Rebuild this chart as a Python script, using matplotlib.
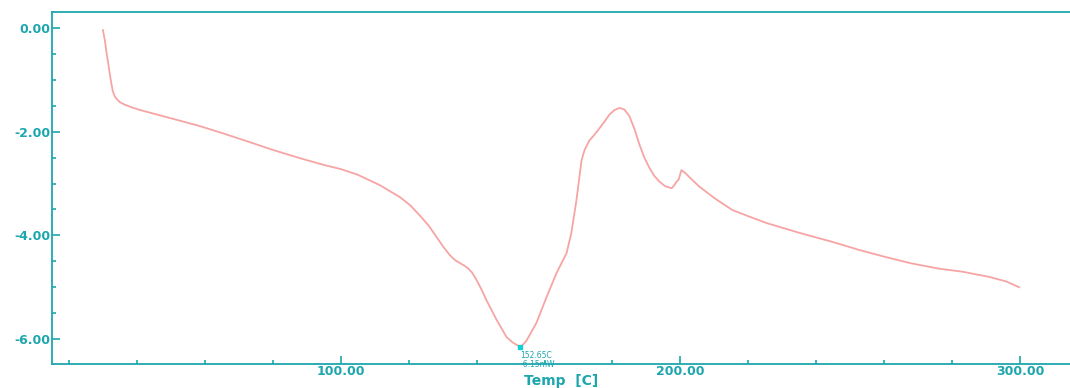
"""
DSC curve: heat flow vs temperature
"""

import numpy as np
import matplotlib.pyplot as plt

# temperature readings (C) and heat flow (mW)
temp = [30.0, 30.6, 31.0, 31.5, 32.0, 32.5, 32.9, 33.5, 34.2, 35.0, 36.5,
        38.5, 40.9, 50.0, 58.5, 65.3, 73.2, 80.0, 88.0, 95.0, 100.0, 105.0,
        111.5, 117.4, 120.5, 123.2, 126.0, 128.2, 130.2, 132.1, 133.7, 135.0,
        136.3, 137.4, 138.7, 140.0, 141.5, 142.9, 145.9, 148.8, 150.5, 152.0,
        152.65, 153.5, 154.7, 157.6, 160.6, 163.5, 166.5, 167.9, 169.4, 170.9,
        171.8, 173.2, 174.8, 176.2, 177.7, 179.1, 180.6, 182.1, 183.5, 185.0,
        186.5, 187.9, 189.4, 190.9, 192.3, 193.8, 195.5, 197.4, 198.0, 198.8,
        199.5, 200.3, 201.5, 203.0, 205.6, 210.0, 215.3, 220.0, 225.3, 235.0,
        245.0, 252.6, 260.0, 268.0, 276.0, 283.0, 290.9, 296.0, 299.7]
heat_flow = [-0.04, -0.25, -0.45, -0.66, -0.88, -1.08, -1.22, -1.32, -1.38,
             -1.43, -1.48, -1.53, -1.58, -1.74, -1.89, -2.03, -2.20, -2.35,
             -2.51, -2.64, -2.72, -2.83, -3.03, -3.26, -3.42, -3.61, -3.82,
             -4.03, -4.22, -4.38, -4.48, -4.53, -4.58, -4.63, -4.72, -4.86,
             -5.05, -5.25, -5.63, -5.96, -6.06, -6.12, -6.15, -6.12, -6.03,
             -5.69, -5.19, -4.73, -4.34, -3.95, -3.32, -2.55, -2.35, -2.17,
             -2.05, -1.93, -1.80, -1.67, -1.58, -1.54, -1.57, -1.70, -1.95,
             -2.24, -2.50, -2.70, -2.85, -2.96, -3.05, -3.09, -3.05, -2.97,
             -2.92, -2.74, -2.80, -2.90, -3.06, -3.28, -3.51, -3.63, -3.76,
             -3.95, -4.13, -4.28, -4.41, -4.54, -4.64, -4.70, -4.80, -4.89,
             -5.00]

# peak annotation
peak_t = 152.65
peak_hf = -6.15

teal = "#1ca6ad"
line_col = "#f59a9a"

fig = plt.figure(figsize=(10.7, 3.88), dpi=100)
ax = fig.add_axes([0.0486, 0.062, 0.9514, 0.907])

ax.plot(temp, heat_flow, color=line_col, lw=1.3, alpha=0.9)
ax.plot(peak_t, peak_hf, marker="s", ms=3, color="#10d0d0", ls="none")
ax.text(peak_t + 0.3, peak_hf - 0.08, f"{peak_t:.2f}C\n{peak_hf:.2f}mW",
        fontsize=5.5, color=teal, va="top", ha="left", linespacing=1.0)

ax.set_xlim(15.0, 314.7)
ax.set_ylim(-6.48, 0.31)

ax.set_xticks([100, 200, 300])
ax.set_xticks(np.arange(20, 311, 20), minor=True)
ax.set_yticks([0, -2, -4, -6])
ax.set_yticks(np.arange(-6.0, 0.01, 0.5), minor=True)
ax.xaxis.set_major_formatter(lambda v, p: f"{v:.2f}")
ax.yaxis.set_major_formatter(lambda v, p: f"{v:.2f}")

ax.tick_params(which="both", direction="in", color=teal, width=1.2,
               labelcolor=teal, labelsize=9)
ax.tick_params(which="major", length=6)
ax.tick_params(which="minor", length=3)
ax.tick_params(axis="x", pad=1)
ax.tick_params(axis="y", pad=1)
for lab in ax.get_xticklabels() + ax.get_yticklabels():
    lab.set_fontweight("bold")

for side in ["left", "bottom", "top"]:
    ax.spines[side].set_color(teal)
    ax.spines[side].set_linewidth(1.3)
ax.spines["right"].set_visible(False)

ax.set_xlabel("Temp  [C]", color=teal, fontsize=10, fontweight="bold",
              labelpad=-3)

plt.savefig("out.png", dpi=100)
